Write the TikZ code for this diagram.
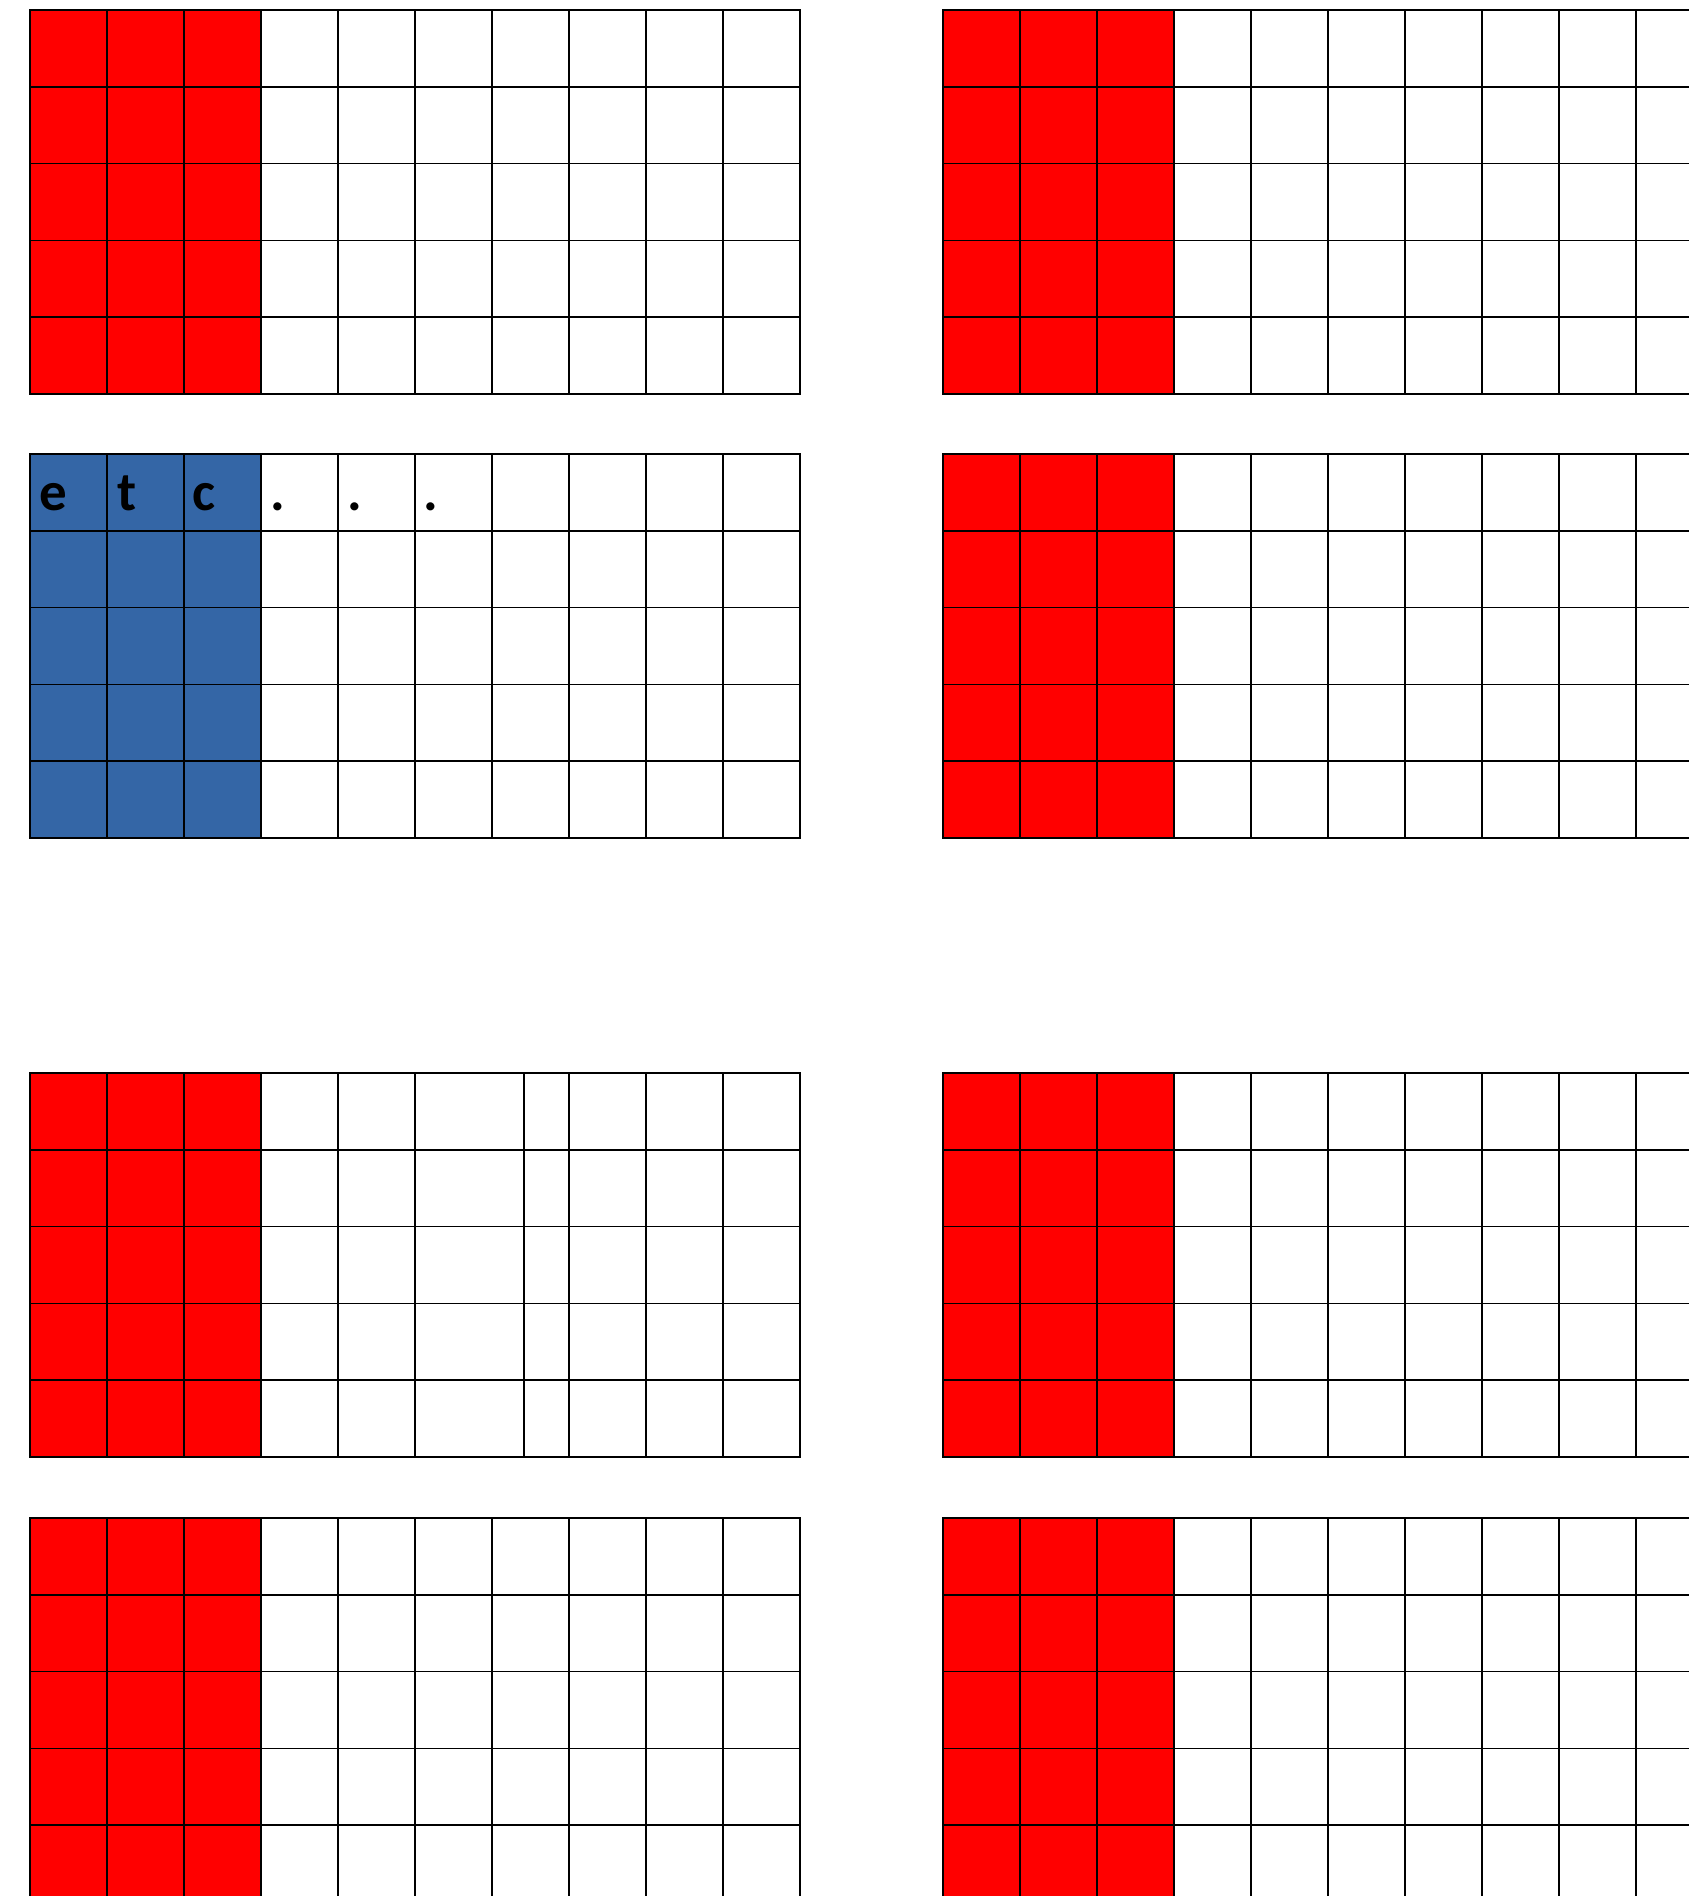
\documentclass[tikz,border=0pt]{standalone}
\usepackage{fontspec}
\newfontfamily\calfont{Carlito}
\definecolor{gridred}{RGB}{255,0,0}
\definecolor{gridblue}{RGB}{52,102,166}
\begin{document}
\begin{tikzpicture}[x=1pt,y=-1pt,
  gridline/.style={line width=1.6pt, black},
  gridframe/.style={line width=2pt, black},
  lbl/.style={inner sep=0pt, anchor=base west, font=\calfont\bfseries\fontsize{55}{60}\selectfont}]
\useasboundingbox (0,0) rectangle (1689,1896);
\clip (0,0) rectangle (1689,1896);
\fill[white] (0,0) rectangle (1689,1896);
\foreach \gx/\gy/\fc/\cols in {
  30/10/gridred/{0,77,154,231,308,385,462,539,616,693,770},
  943/10/gridred/{0,77,154,231,308,385,462,539,616,693,770},
  30/454/gridblue/{0,77,154,231,308,385,462,539,616,693,770},
  943/454/gridred/{0,77,154,231,308,385,462,539,616,693,770},
  30/1073/gridred/{0,77,154,231,308,385,494,539,616,693,770},
  943/1073/gridred/{0,77,154,231,308,385,462,539,616,693,770},
  30/1518/gridred/{0,77,154,231,308,385,462,539,616,693,770},
  943/1518/gridred/{0,77,154,231,308,385,462,539,616,693,770}} {
  \fill[\fc] (\gx,\gy) rectangle ++(231,384);
  \foreach \r in {1,2,3,4}
    \draw[gridline] (\gx,\gy+\r*76.8) -- ++(770,0);
  \foreach \c in \cols
    \draw[gridline] (\gx+\c,\gy) -- ++(0,384);
  \draw[gridframe] (\gx,\gy) rectangle ++(770,384);
}
\node[lbl] (le) at (39,510) {e};
\node[lbl] (lt) at (117,510) {t};
\node[lbl] (lc) at (192,510) {c};
\node[lbl] (d1) at (270,510) {.};
\node[lbl] (d2) at (347,510) {.};
\node[lbl] (d3) at (423,510) {.};
\end{tikzpicture}
\end{document}
